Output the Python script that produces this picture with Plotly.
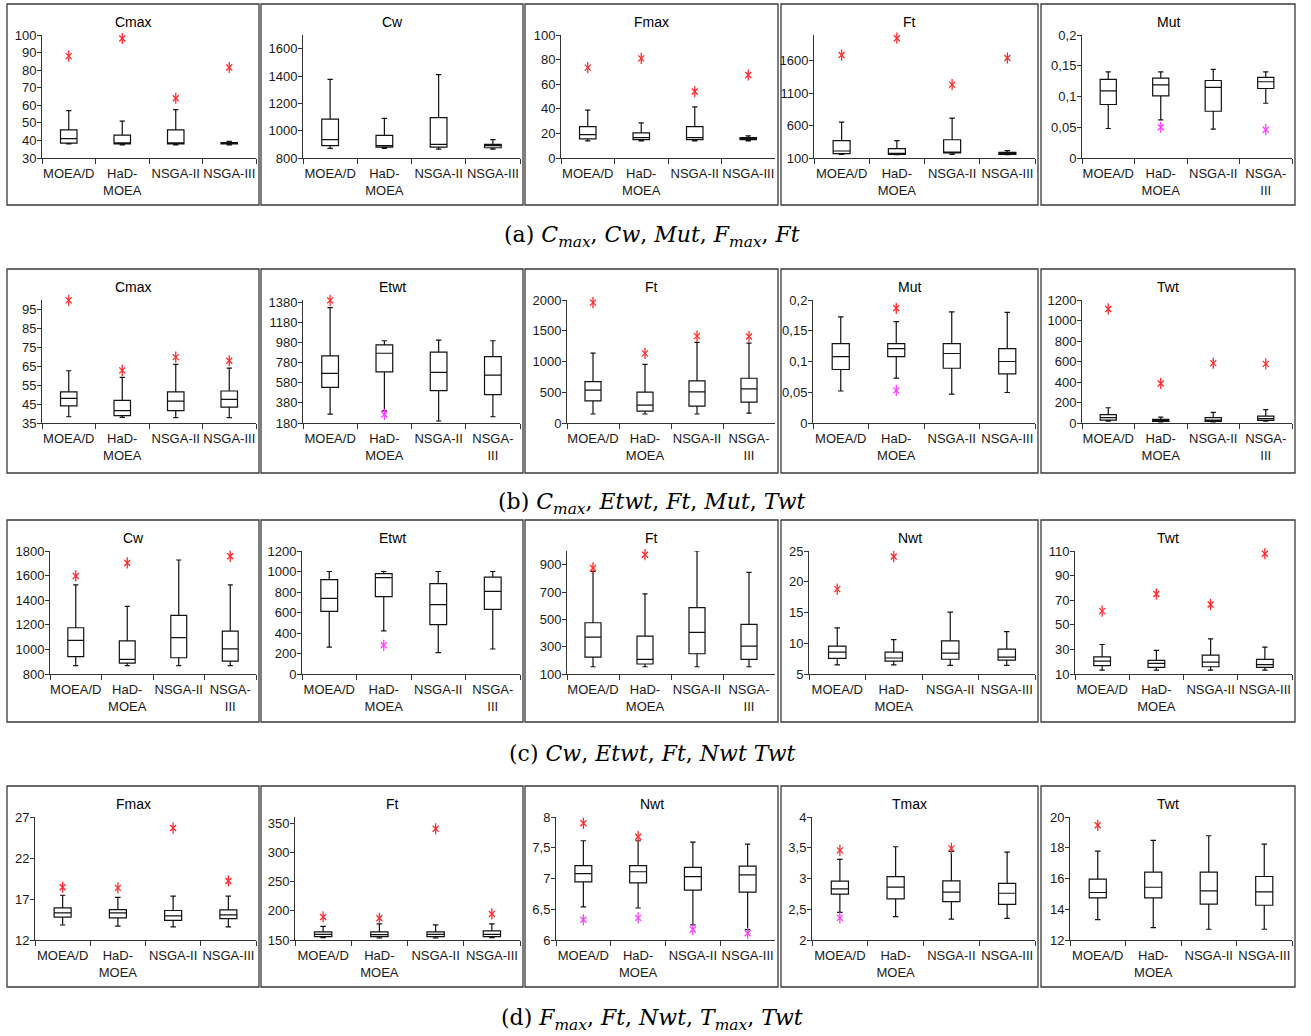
import plotly.graph_objects as go

# ---------------- data ----------------
LBL = ["MOEA/D", "HaD-<br>MOEA", "NSGA-II", "NSGA-III"]
LBL_W = ["MOEA/D", "HaD-<br>MOEA", "NSGA-II", "NSGA-<br>III"]
N = None

# Row (a)
a_cmax = dict(title="Cmax", lo=[38, 37.5, 37.5, 37.5], q1=[38.5, 38, 38, 38], med=[41, 38.5, 38.5, 38.3],
              q3=[46, 43, 46, 38.8], hi=[57, 51, 57.5, 39.5], out_hi=[88, 98, 64, 81.5], out_lo=[N, N, N, N],
              yrange=[30, 100], ticks=[30, 40, 50, 60, 70, 80, 90, 100], wrap=False)
a_cw = dict(title="Cw", lo=[870, 870, 865, 865], q1=[890, 880, 880, 875], med=[935, 890, 900, 890],
            q3=[1085, 965, 1095, 900], hi=[1375, 1090, 1410, 935], out_hi=[N, N, N, N], out_lo=[N, N, N, N],
            yrange=[800, 1700], ticks=[800, 1000, 1200, 1400, 1600], wrap=False)
a_fmax = dict(title="Fmax", lo=[14, 14, 14, 14], q1=[15.5, 15, 15, 15], med=[19, 16.5, 16.5, 15.5],
              q3=[25.5, 20.5, 25.5, 16.5], hi=[39, 28.5, 41.5, 18], out_hi=[73.5, 81, 54, 67.5], out_lo=[N, N, N, N],
              yrange=[0, 100], ticks=[0, 20, 40, 60, 80, 100], wrap=False)
a_ft = dict(title="Ft", lo=[156, 151, 156, 151], q1=[167, 156, 177, 156], med=[208, 167, 187, 172],
            q3=[367, 244, 382, 187], hi=[654, 367, 715, 213], out_hi=[1690, 1951, 1233, 1644], out_lo=[N, N, N, N],
            yrange=[100, 2000], ticks=[100, 600, 1100, 1600], wrap=False)
a_mut = dict(title="Mut", lo=[0.048, 0.062, 0.047, 0.089], q1=[0.087, 0.101, 0.076, 0.113],
             med=[0.109, 0.119, 0.115, 0.124], q3=[0.128, 0.13, 0.126, 0.131], hi=[0.14, 0.14, 0.144, 0.14],
             out_hi=[N, N, N, N], out_lo=[N, 0.05, N, 0.046],
             yrange=[0, 0.2], ticks=[0, 0.05, 0.1, 0.15, 0.2], wrap=True)

# Row (b)
b_cmax = dict(title="Cmax", lo=[38.3, 38, 37.8, 37.8], q1=[44, 38.9, 41.5, 43.4], med=[48, 41.5, 46.6, 47.5],
              q3=[51.4, 47, 51.4, 51.9], hi=[62.6, 59.1, 66, 64], out_hi=[99.8, 62.8, 69.8, 67.9], out_lo=[N, N, N, N],
              yrange=[35, 100], ticks=[35, 45, 55, 65, 75, 85, 95], wrap=False)
b_etwt = dict(title="Etwt", lo=[268, 300, 200, 242], q1=[534, 688, 501, 462], med=[672, 872, 682, 655],
              q3=[846, 954, 882, 839], hi=[1324, 996, 1003, 996], out_hi=[1396, N, N, N], out_lo=[N, 265, N, N],
              yrange=[180, 1400], ticks=[180, 380, 580, 780, 980, 1180, 1380], wrap=True)
b_ft = dict(title="Ft", lo=[146, 146, 146, 162], q1=[361, 194, 275, 340], med=[534, 291, 507, 555],
            q3=[674, 501, 685, 728], hi=[1137, 954, 1310, 1299], out_hi=[1957, 1132, 1412, 1407], out_lo=[N, N, N, N],
            yrange=[0, 2000], ticks=[0, 500, 1000, 1500, 2000], wrap=True)
b_mut = dict(title="Mut", lo=[0.052, 0.073, 0.047, 0.0496], q1=[0.087, 0.108, 0.089, 0.080],
             med=[0.108, 0.121, 0.113, 0.100], q3=[0.129, 0.129, 0.129, 0.121], hi=[0.1725, 0.165, 0.1806, 0.18],
             out_hi=[N, 0.1865, N, N], out_lo=[N, 0.053, N, N],
             yrange=[0, 0.2], ticks=[0, 0.05, 0.1, 0.15, 0.2], wrap=False)
b_twt = dict(title="Twt", lo=[19, 10, 10, 19], q1=[29, 16, 16, 26], med=[52, 26, 29, 42],
             q3=[81, 36, 52, 68], hi=[149, 58, 104, 130], out_hi=[1113, 386, 584, 577], out_lo=[N, N, N, N],
             yrange=[0, 1200], ticks=[0, 200, 400, 600, 800, 1000, 1200], wrap=True)

# Row (c)
c_cw = dict(title="Cw", lo=[868, 868, 868, 868], q1=[941, 889, 932, 905], med=[1073, 919, 1095, 1005],
            q3=[1176, 1070, 1276, 1149], hi=[1524, 1349, 1727, 1524], out_hi=[1597, 1703, N, 1757], out_lo=[N, N, N, N],
            yrange=[800, 1800], ticks=[800, 1000, 1200, 1400, 1600, 1800], wrap=True)
c_etwt = dict(title="Etwt", lo=[263, 420, 208, 244], q1=[611, 754, 481, 631], med=[738, 941, 676, 807],
              q3=[920, 980, 881, 946], hi=[1000, 1000, 1000, 1000], out_hi=[N, N, N, N], out_lo=[N, 280, N, N],
              yrange=[0, 1200], ticks=[0, 200, 400, 600, 800, 1000, 1200], wrap=True)
c_ft = dict(title="Ft", lo=[153, 153, 153, 153], q1=[224, 173, 248, 207], med=[370, 207, 404, 304],
            q3=[475, 377, 586, 463], hi=[851, 686, 1000, 844], out_hi=[876, 973, N, N], out_lo=[N, N, N, N],
            yrange=[100, 1000], ticks=[100, 300, 500, 700, 900], wrap=True)
c_nwt = dict(title="Nwt", lo=[6.5, 6.5, 6.4, 6.4], q1=[7.54, 7.1, 7.4, 7.27], med=[8.57, 7.6, 8.4, 7.76],
             q3=[9.54, 8.57, 10.4, 9.05], hi=[12.5, 10.6, 15.05, 11.9], out_hi=[18.8, 24.1, N, N], out_lo=[N, N, N, N],
             yrange=[5, 25], ticks=[5, 10, 15, 20, 25], wrap=False)
c_twt = dict(title="Twt", lo=[13.2, 13.2, 13.2, 13.2], q1=[16.8, 15.4, 15.9, 15.4], med=[20.5, 18.6, 19.7, 17.6],
             q3=[24, 21, 25.4, 21.9], hi=[34, 29.2, 38.6, 31.9], out_hi=[61.1, 75.1, 66.5, 107.8], out_lo=[N, N, N, N],
             yrange=[10, 110], ticks=[10, 30, 50, 70, 90, 110], wrap=False)

# Row (d)
d_fmax = dict(title="Fmax", lo=[13.83, 13.7, 13.6, 13.6], q1=[14.8, 14.7, 14.4, 14.6], med=[15.3, 15.3, 14.94, 15.06],
              q3=[15.91, 15.7, 15.6, 15.67], hi=[17.46, 17.2, 17.34, 17.34], out_hi=[18.44, 18.36, 25.65, 19.2],
              out_lo=[N, N, N, N], yrange=[12, 27], ticks=[12, 17, 22, 27], wrap=False)
d_ft = dict(title="Ft", lo=[154, 153.4, 153.4, 154], q1=[155.7, 155.7, 155.7, 155.7], med=[159.7, 159.2, 159.7, 159.7],
            q3=[163.8, 163.8, 163.8, 165.5], hi=[173.5, 177.5, 175.8, 177.5], out_hi=[189.5, 187.2, 340.8, 194.7],
            out_lo=[N, N, N, N], yrange=[150, 361], ticks=[150, 200, 250, 300, 350], wrap=False)
d_nwt = dict(title="Nwt", lo=[6.54, 6.52, 6.245, 6.17], q1=[6.946, 6.93, 6.81, 6.78], med=[7.08, 7.11, 7.03, 7.06],
             q3=[7.21, 7.21, 7.18, 7.2], hi=[7.614, 7.614, 7.59, 7.56], out_hi=[7.897, 7.68, N, N],
             out_lo=[6.33, 6.36, 6.17, 6.11], yrange=[6, 8], ticks=[6, 6.5, 7, 7.5, 8], wrap=False)
d_tmax = dict(title="Tmax", lo=[2.45, 2.38, 2.34, 2.35], q1=[2.745, 2.67, 2.625, 2.58], med=[2.83, 2.86, 2.78, 2.76],
              q3=[2.957, 3.03, 2.96, 2.92], hi=[3.31, 3.516, 3.44, 3.43], out_hi=[3.457, N, 3.49, N],
              out_lo=[2.36, N, N, N], yrange=[2, 4], ticks=[2, 2.5, 3, 3.5, 4], wrap=False)
d_twt = dict(title="Twt", lo=[13.33, 12.8, 12.7, 12.7], q1=[14.74, 14.74, 14.33, 14.26], med=[15.09, 15.43, 15.2, 15.13],
             q3=[15.96, 16.41, 16.41, 16.13], hi=[17.78, 18.48, 18.78, 18.24], out_hi=[19.46, N, N, N],
             out_lo=[N, N, N, N], yrange=[12, 20], ticks=[12, 14, 16, 18, 20], wrap=False)

ROWS = [
    [a_cmax, a_cw, a_fmax, a_ft, a_mut],
    [b_cmax, b_etwt, b_ft, b_mut, b_twt],
    [c_cw, c_etwt, c_ft, c_nwt, c_twt],
    [d_fmax, d_ft, d_nwt, d_tmax, d_twt],
]
CAPTIONS = [
    "(a) <i>C</i><sub><i>max</i></sub>, <i>Cw</i>, <i>Mut</i>, <i>F</i><sub><i>max</i></sub>, <i>Ft</i>",
    "(b) <i>C</i><sub><i>max</i></sub>, <i>Etwt</i>, <i>Ft</i>, <i>Mut</i>, <i>Twt</i>",
    "(c) <i>Cw</i>, <i>Etwt</i>, <i>Ft</i>, <i>Nwt</i> <i>Twt</i>",
    "(d) <i>F</i><sub><i>max</i></sub>, <i>Ft</i>, <i>Nwt</i>, <i>T</i><sub><i>max</i></sub>, <i>Twt</i>",
]

# ---------------- layout geometry (pixels) ----------------
OX, OY = 0, 0
W, H = 1311, 1036
FX = [(7, 259), (261, 523), (525, 778), (781, 1038), (1041, 1295)]
FY = [(4, 205), (269, 473), (520, 722), (786, 987)]
AXL = [[42, 303, 561, 814, 1082],
       [42, 303, 567, 813, 1082],
       [50, 302, 567, 809, 1075],
       [35, 295, 556, 812, 1070]]
CAP_Y = [237, 503, 753, 1019]


def px(x):
    return (x - OX) / W


def py(y):
    return 1 - (y - OY) / H


def fmt(v):
    return f"{v:g}".replace(".", ",")


FONT = "Liberation Sans, Arial, sans-serif"
RED = "#ff2a2a"
MAG = "#ff3cff"

fig = go.Figure()
shapes, annos = [], []
lay = {}
k = 0
for r, row in enumerate(ROWS):
    fy0, fy1 = FY[r]
    for c, p in enumerate(row):
        k += 1
        fx0, fx1 = FX[c]
        xa = "x" if k == 1 else f"x{k}"
        ya = "y" if k == 1 else f"y{k}"
        cats = LBL_W if p["wrap"] else LBL
        fig.add_trace(go.Box(
            x=cats, q1=p["q1"], median=p["med"], q3=p["q3"],
            lowerfence=p["lo"], upperfence=p["hi"],
            xaxis=xa, yaxis=ya, boxpoints=False,
            fillcolor="white", line=dict(color="#111111", width=1.2),
            whiskerwidth=0.32, showlegend=False, hoverinfo="skip"))
        for outs, col in ((p["out_hi"], RED), (p["out_lo"], MAG)):
            xs = [cats[i] for i, v in enumerate(outs) if v is not None]
            ys = [v for v in outs if v is not None]
            if not xs:
                continue
            for sym, sz in (("x-thin-open", 6), ("line-ns-open", 8)):
                fig.add_trace(go.Scatter(
                    x=xs, y=ys, mode="markers", xaxis=xa, yaxis=ya,
                    marker=dict(symbol=sym, size=sz, line=dict(color=col, width=1.3), color=col),
                    showlegend=False, hoverinfo="skip", cliponaxis=False))
        xl = AXL[r][c]
        xr = fx1 - 3
        lay["xaxis" if k == 1 else f"xaxis{k}"] = dict(
            domain=[px(xl), px(xr)], anchor=ya, type="category",
            categoryorder="array", categoryarray=cats, range=[-0.5, 3.5],
            showline=True, linecolor="#333333", linewidth=1, ticks="outside",
            tickson="boundaries", ticklen=5, tickcolor="#333333", showgrid=False,
            tickangle=0, automargin=False, ticklabelstandoff=3,
            zeroline=False, tickfont=dict(family=FONT, size=13, color="#1a1a1a"), fixedrange=True)
        lay["yaxis" if k == 1 else f"yaxis{k}"] = dict(
            domain=[py(fy0 + 154), py(fy0 + 31)], anchor=xa, range=p["yrange"],
            tickvals=p["ticks"], ticktext=[fmt(v) for v in p["ticks"]],
            showline=True, linecolor="#333333", linewidth=1, ticks="outside", ticklen=4,
            tickcolor="#333333", showgrid=False, zeroline=False, automargin=False,
            ticklabelstandoff=-2,
            tickfont=dict(family=FONT, size=13, color="#1a1a1a"), fixedrange=True)
        shapes.append(dict(type="rect", xref="paper", yref="paper",
                           x0=px(fx0), x1=px(fx1), y0=py(fy1), y1=py(fy0),
                           line=dict(color="#3a3a3a", width=1.3)))
        annos.append(dict(text=p["title"], xref="paper", yref="paper",
                          x=px((fx0 + fx1) / 2), y=py(fy0 + 18), showarrow=False,
                          xanchor="center", yanchor="middle",
                          font=dict(family=FONT, size=14, color="#000000")))
    annos.append(dict(text=CAPTIONS[r], xref="paper", yref="paper",
                      x=px(652), y=py(CAP_Y[r]), showarrow=False,
                      xanchor="center", yanchor="middle",
                      font=dict(family="DejaVu Serif, serif", size=22, color="#000000")))

fig.update_layout(**lay)
fig.update_layout(
    width=W, height=H, margin=dict(l=0, r=0, t=0, b=0, autoexpand=False),
    paper_bgcolor="white", plot_bgcolor="white",
    boxgap=0.56, shapes=shapes, annotations=annos, showlegend=False)

fig.write_html("out.html", config={"displayModeBar": False},
               post_script="document.body.style.margin='0';document.body.style.overflow='hidden';")
